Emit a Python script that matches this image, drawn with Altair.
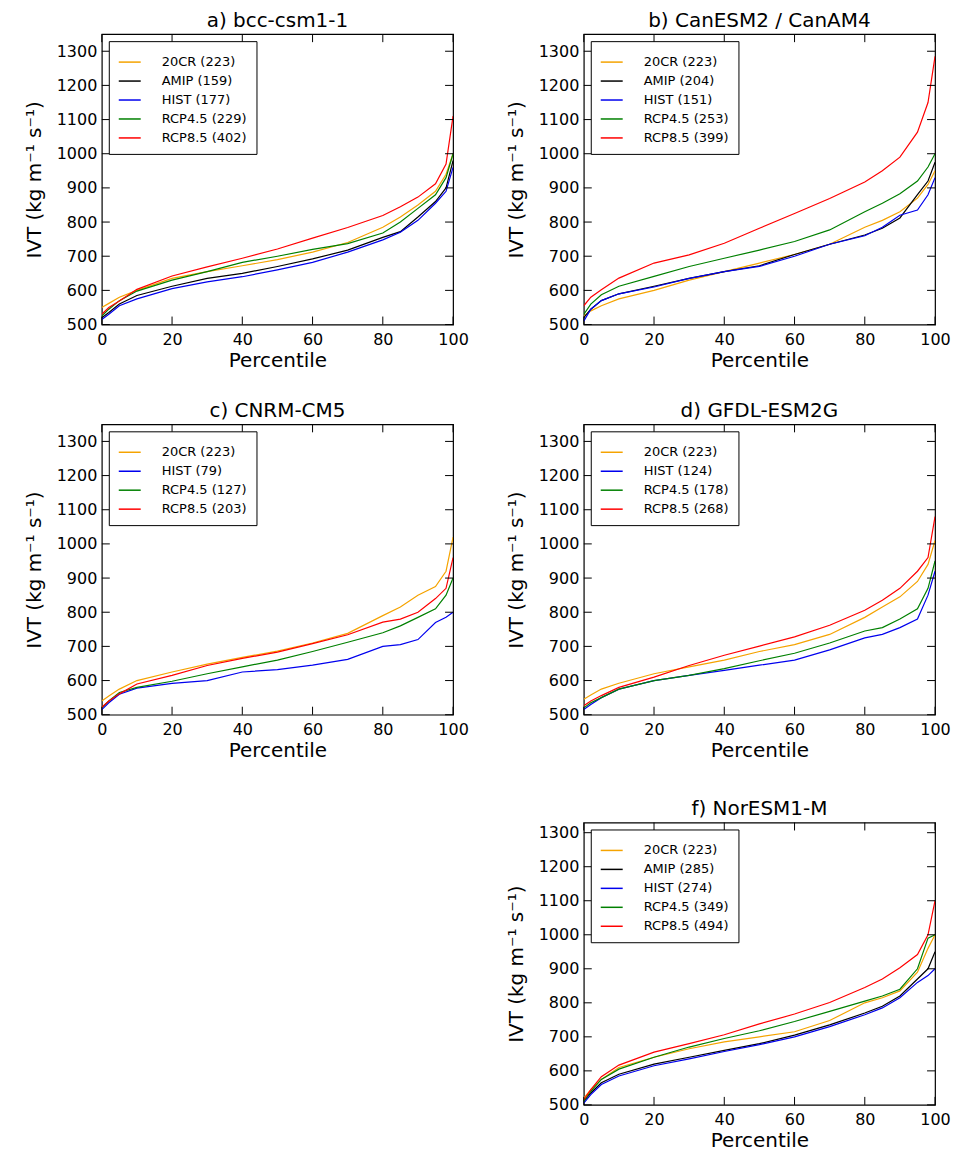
import altair as alt
import pandas as pd

# ---------------- data ----------------
PCT = [0, 2, 5, 10, 20, 30, 40, 50, 60, 70, 80, 85, 90, 95, 98, 100]
SERIES = ["20CR", "AMIP", "HIST", "RCP4.5", "RCP8.5"]
SERIES_COLORS = ["#f5a300", "#000000", "#0000ee", "#008000", "#ff0000"]
X_TICKS = [0, 20, 40, 60, 80, 100]
Y_TICKS = [500, 600, 700, 800, 900, 1000, 1100, 1200, 1300]

# a) bcc-csm1-1
A_TITLE = "a) bcc-csm1-1"
A_COUNTS = [223, 159, 177, 229, 402]
A_20CR = [550, 562, 580, 600, 635, 655, 672, 690, 712, 740, 785, 815, 850, 890, 940, 1000]
A_AMIP = [520, 535, 560, 585, 612, 635, 650, 670, 692, 718, 755, 772, 815, 860, 900, 980]
A_HIST = [515, 530, 555, 575, 605, 625, 640, 660, 682, 712, 748, 770, 805, 855, 890, 960]
A_RCP45 = [525, 545, 570, 598, 630, 655, 682, 700, 720, 737, 768, 800, 840, 880, 930, 1000]
A_RCP85 = [530, 550, 569, 603, 642, 669, 694, 721, 753, 784, 819, 845, 873, 912, 970, 1110]

# b) CanESM2 / CanAM4
B_TITLE = "b) CanESM2 / CanAM4"
B_COUNTS = [223, 204, 151, 253, 399]
B_20CR = [525, 540, 555, 575, 600, 630, 655, 680, 705, 735, 785, 805, 830, 870, 910, 950]
B_AMIP = [520, 545, 570, 590, 612, 635, 655, 672, 705, 735, 762, 782, 812, 880, 920, 975]
B_HIST = [510, 545, 570, 590, 610, 635, 655, 670, 700, 735, 760, 785, 820, 835, 880, 930]
B_RCP45 = [530, 560, 587, 612, 641, 670, 694, 718, 743, 777, 830, 855, 883, 920, 961, 1000]
B_RCP85 = [555, 580, 602, 636, 680, 704, 738, 782, 825, 869, 917, 950, 990, 1063, 1150, 1285]

# c) CNRM-CM5 (no AMIP)
C_TITLE = "c) CNRM-CM5"
C_COUNTS = [223, None, 79, 127, 203]
C_20CR = [540, 555, 575, 600, 625, 648, 668, 686, 710, 738, 790, 815, 850, 875, 920, 1020]
C_HIST = [515, 535, 560, 578, 592, 600, 625, 632, 645, 662, 700, 705, 720, 770, 785, 800]
C_RCP45 = [520, 540, 565, 580, 598, 620, 640, 660, 685, 712, 740, 760, 785, 810, 850, 900]
C_RCP85 = [522, 540, 561, 590, 615, 644, 665, 683, 708, 734, 771, 780, 800, 840, 870, 960]

# d) GFDL-ESM2G (no AMIP)
D_TITLE = "d) GFDL-ESM2G"
D_COUNTS = [223, None, 124, 178, 268]
D_20CR = [545, 558, 575, 592, 620, 640, 660, 685, 705, 735, 785, 815, 845, 890, 940, 1010]
D_HIST = [515, 530, 550, 575, 600, 615, 630, 645, 660, 690, 725, 735, 755, 780, 850, 920]
D_RCP45 = [520, 535, 550, 575, 600, 615, 635, 658, 680, 710, 745, 755, 780, 810, 870, 950]
D_RCP85 = [526, 540, 556, 580, 610, 644, 674, 701, 728, 762, 806, 835, 870, 920, 960, 1080]

# f) NorESM1-M
F_TITLE = "f) NorESM1-M"
F_COUNTS = [223, 285, 274, 349, 494]
F_20CR = [520, 545, 575, 610, 640, 665, 685, 700, 715, 748, 800, 815, 835, 890, 960, 1000]
F_AMIP = [510, 535, 565, 590, 620, 640, 660, 680, 705, 735, 770, 790, 820, 870, 900, 950]
F_HIST = [505, 530, 560, 585, 615, 635, 657, 677, 700, 730, 765, 785, 815, 860, 880, 900]
F_RCP45 = [510, 540, 575, 605, 640, 670, 695, 718, 745, 775, 805, 820, 840, 900, 990, 1000]
F_RCP85 = [515, 545, 583, 617, 655, 680, 706, 738, 767, 801, 845, 870, 903, 942, 1000, 1100]

# ---------------- layout ----------------
W = 352
TICK = 8
FONT = "DejaVu Sans"
Y_TITLE = "IVT (kg m\u207b\u00b9 s\u207b\u00b9)"

xscale = alt.Scale(domain=[0, 100], nice=False, zero=False)

x_axis = alt.Axis(values=X_TICKS, ticks=False, domain=False, grid=False, labelFontSize=16,
                  labelPadding=7, titleFontSize=20, titleFontWeight="normal", titlePadding=3,
                  labelColor="black", titleColor="black", labelFlush=False)
y_axis = alt.Axis(values=Y_TICKS, ticks=False, domain=False, grid=False, labelFontSize=16,
                  labelPadding=5, titleFontSize=20, titleFontWeight="normal", titlePadding=12,
                  labelColor="black", titleColor="black", format="d")


def panel(title, counts, series_values, H=291, ymax=1350):
    yscale = alt.Scale(domain=[500, ymax], nice=False, zero=False)
    rows = []
    labels, colors = [], []
    for name, color, cnt, vals in zip(SERIES, SERIES_COLORS, counts, series_values):
        if vals is None:
            continue
        lab = f"{name} ({cnt})"
        labels.append(lab)
        colors.append(color)
        for p, v in zip(PCT, vals):
            rows.append({"pct": p, "ivt": v, "label": lab})
    df = pd.DataFrame(rows)

    xenc = alt.X("pct:Q", scale=xscale, axis=x_axis, title="Percentile")
    yenc = alt.Y("ivt:Q", scale=yscale, axis=y_axis, title=Y_TITLE)

    lines = alt.Chart(df).mark_line(strokeWidth=1.2, clip=True).encode(
        x=xenc,
        y=yenc,
        color=alt.Color("label:N", scale=alt.Scale(domain=labels, range=colors),
                        sort=labels, title=None,
                        legend=alt.Legend(orient="none", legendX=7, legendY=7,
                                          symbolType="stroke", symbolSize=484,
                                          symbolStrokeWidth=1.5, labelFontSize=13,
                                          labelFont=FONT, labelColor="black",
                                          strokeColor="black", fillColor="white",
                                          padding=9, rowPadding=0, labelOffset=20,
                                          cornerRadius=0)),
        detail="label:N",
    )

    xt = pd.DataFrame({"pct": X_TICKS})
    yt = pd.DataFrame({"ivt": Y_TICKS})
    tb = alt.Chart(xt).mark_rule(color="black", strokeWidth=1).encode(
        x=xenc, y=alt.value(H), y2=alt.value(H - TICK))
    tt = alt.Chart(xt).mark_rule(color="black", strokeWidth=1).encode(
        x=xenc, y=alt.value(0), y2=alt.value(TICK))
    tl = alt.Chart(yt).mark_rule(color="black", strokeWidth=1).encode(
        y=yenc, x=alt.value(0), x2=alt.value(TICK))
    tr = alt.Chart(yt).mark_rule(color="black", strokeWidth=1).encode(
        y=yenc, x=alt.value(W), x2=alt.value(W - TICK))

    return alt.layer(lines, tb, tt, tl, tr).properties(
        width=W, height=H,
        title=alt.TitleParams(title, fontSize=20, fontWeight="normal", font=FONT,
                              color="black", offset=3, anchor="middle"),
    )


pa = panel(A_TITLE, A_COUNTS, [A_20CR, A_AMIP, A_HIST, A_RCP45, A_RCP85])
pb = panel(B_TITLE, B_COUNTS, [B_20CR, B_AMIP, B_HIST, B_RCP45, B_RCP85])
pc = panel(C_TITLE, C_COUNTS, [C_20CR, None, C_HIST, C_RCP45, C_RCP85])
pd_ = panel(D_TITLE, D_COUNTS, [D_20CR, None, D_HIST, D_RCP45, D_RCP85])
pf = panel(F_TITLE, F_COUNTS, [F_20CR, F_AMIP, F_HIST, F_RCP45, F_RCP85], H=283, ymax=1330)

HSP = 36
spacer = alt.Chart(pd.DataFrame({"pct": [0]})).mark_point(opacity=0).encode(
    x=alt.X("pct:Q", axis=None)
).properties(width=W + 15, height=283, view=alt.ViewBackground(stroke="transparent"))

row1 = alt.hconcat(pa, pb, spacing=HSP).resolve_scale(color="independent").resolve_legend(color="independent")
row2 = alt.hconcat(pc, pd_, spacing=HSP).resolve_scale(color="independent").resolve_legend(color="independent")
row3 = alt.hconcat(spacer, pf, spacing=HSP).resolve_scale(color="independent").resolve_legend(color="independent")

top_rows = alt.vconcat(row1, row2, spacing=28).resolve_scale(
    color="independent").resolve_legend(color="independent")

chart = alt.vconcat(top_rows, row3, spacing=36).resolve_scale(
    color="independent").resolve_legend(color="independent").configure(
    font=FONT, padding={"left": 15, "top": 0, "right": 0, "bottom": 0}
).configure_view(stroke="black", strokeWidth=1.2).configure_axis(
    labelFont=FONT, titleFont=FONT)

chart.save("out.html", embed_options={"renderer": "svg", "actions": False})
